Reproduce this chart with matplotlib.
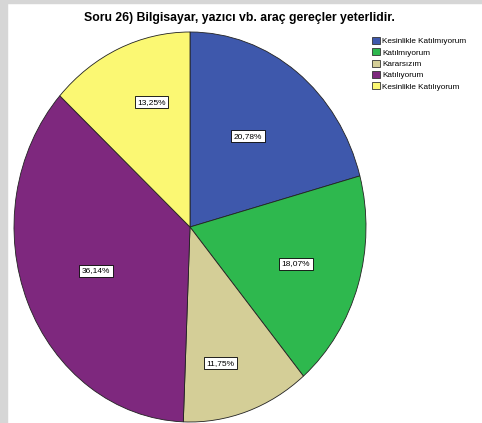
import matplotlib
matplotlib.use("Agg")
import matplotlib.pyplot as plt
from matplotlib.patches import Rectangle, Patch
import numpy as np

plt.rcParams['font.family'] = ['Liberation Sans', 'DejaVu Sans']

# Veriler
categories = ["Kesinlikle Katılmıyorum", "Katılmıyorum", "Kararsızım",
              "Katılıyorum", "Kesinlikle Katılıyorum"]
percents = [20.78, 18.07, 11.75, 36.14, 13.25]
colors = ["#3E58AC", "#2EB84E", "#D4CE97", "#7E287E", "#FBF873"]
title = "Soru 26) Bilgisayar, yazıcı vb. araç gereçler yeterlidir."

# etiket yerleşimi (dilim başına): merkeze uzaklık ve açı kayması
label_r = [0.57, 0.63, 0.72, 0.58, 0.675]
label_da = [2, 0, -5, 0, -5]

W, H = 482, 423
fig = plt.figure(figsize=(W / 100, H / 100), dpi=100)

# gri kenar
fig.patches.append(Rectangle((0, 1 - 3 / H), 1, 3 / H, transform=fig.transFigure,
                             color="#D6D6D6", zorder=0))
fig.patches.append(Rectangle((0, 0), 7 / W, 1, transform=fig.transFigure,
                             color="#D6D6D6", zorder=0))

cx, cy, rx, ry = 190, 227, 176, 195
ax = fig.add_axes([(cx - rx) / W, (H - cy - ry) / H, 2 * rx / W, 2 * ry / H])

wedges, _ = ax.pie(percents, colors=colors, startangle=90, counterclock=False,
                   wedgeprops=dict(edgecolor="#222222", linewidth=0.6))
ax.set_aspect("auto")
ax.set_xlim(-1, 1)
ax.set_ylim(-1, 1)
ax.axis("off")

for w, p, r, da in zip(wedges, percents, label_r, label_da):
    ang = np.deg2rad((w.theta1 + w.theta2) / 2 + da)
    ax.text(r * np.cos(ang), r * np.sin(ang), f"{p:.2f}%".replace(".", ","),
            ha="center", va="center", fontsize=6.0,
            bbox=dict(boxstyle="square,pad=0.3", facecolor="white",
                      edgecolor="black", linewidth=0.6))

fig.text(239 / W, 1 - 18 / H, title, ha="center", va="center",
         fontsize=8.8, fontweight="bold")

handles = [Patch(facecolor=c, edgecolor="#333333", linewidth=0.6) for c in colors]
fig.legend(handles, categories, loc="upper left",
           bbox_to_anchor=(368 / W, 1 - 33 / H), frameon=False,
           fontsize=5.9, handlelength=0.95, handleheight=0.95,
           handletextpad=0.25, labelspacing=0.36, borderpad=0)

fig.savefig("out.png", dpi=100)
